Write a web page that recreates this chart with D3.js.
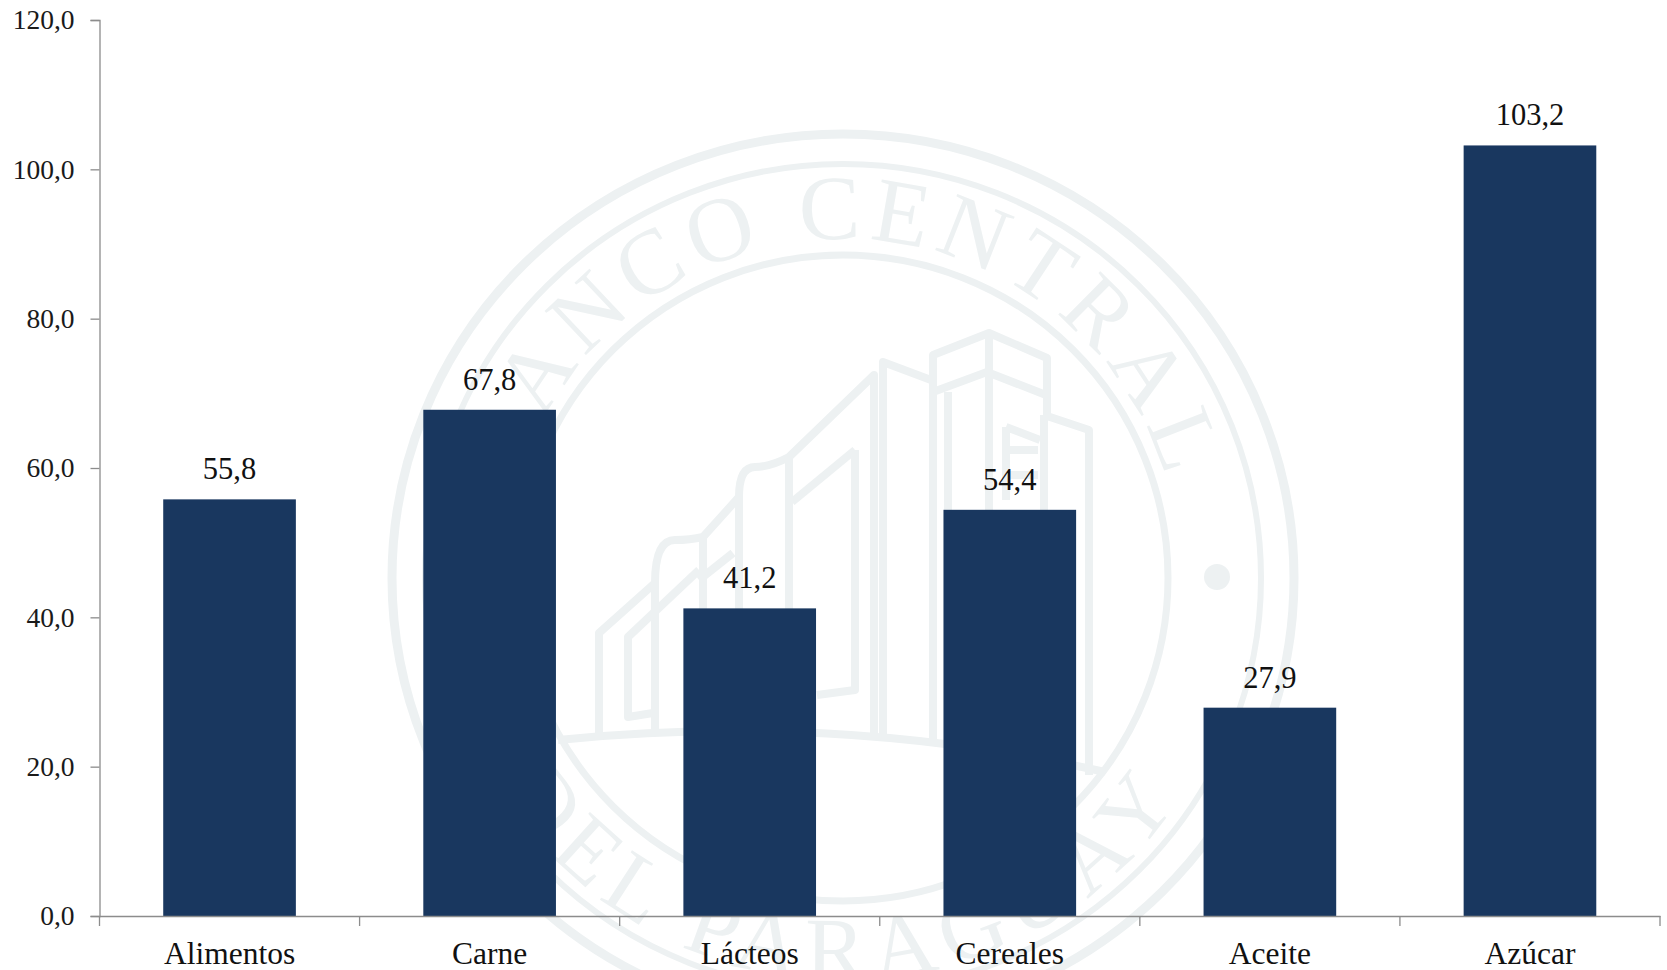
<!DOCTYPE html>
<html>
<head>
<meta charset="utf-8">
<style>
html,body{margin:0;padding:0;background:#fff;overflow:hidden}
svg{display:block}
text{font-family:"Liberation Serif",serif}
</style>
<script src="https://cdn.jsdelivr.net/npm/d3@7"></script>
</head>
<body>
<script>
const categories = ["Alimentos","Carne","Lácteos","Cereales","Aceite","Azúcar"];
const values = [55.8,67.8,41.2,54.4,27.9,103.2];
const yTicks = [0,20,40,60,80,100,120];
const sealTop = "BANCO CENTRAL";
const sealBottom = "DEL PARAGUAY";
const comma = d3.format(".1f");
const fmt = v => comma(v).replace(".",",");

const W = 1667, H = 970;
const mLeft = 99.5, mRight = 1660, mTop = 20, mBottom = 916;
const svg = d3.select("body").append("svg").attr("width",W).attr("height",H);
svg.append("rect").attr("width",W).attr("height",H).attr("fill","#fff");

// watermark seal
const wm = "#edf1f2";
const seal = svg.append("g").attr("fill","none").attr("stroke",wm);
const cx = 843, cy = 577;
[[451,444,9],[418,414,6],[325,323,7]].forEach(([rx,ry,w]) =>
  seal.append("ellipse").attr("cx",cx).attr("cy",cy+1).attr("rx",rx).attr("ry",ry).attr("stroke-width",w));
const defs = svg.append("defs");
const rad = d => d*Math.PI/180;
const arcPath = (r,a0,a1,sweep) => {
  const p = a => [cx+r*Math.sin(rad(a)), cy-r*Math.cos(rad(a))];
  const [x0,y0]=p(a0),[x1,y1]=p(a1);
  return `M${x0},${y0}A${r},${r} 0 0 ${sweep} ${x1},${y1}`;
};
defs.append("path").attr("id","arcTop").attr("d",arcPath(338,-88,88,1));
defs.append("path").attr("id","arcBot").attr("d",arcPath(403,235,125,0));
const addArc = (id,txt,size,sp) => svg.append("text")
  .attr("font-size",size).attr("fill",wm).attr("letter-spacing",sp)
  .append("textPath").attr("href","#"+id).attr("startOffset","50%").attr("text-anchor","middle").text(txt);
addArc("arcTop",sealTop,92,8);
addArc("arcBot",sealBottom,90,11);
[[cx+374,577],[cx-374,577]].forEach(([px,py]) =>
  svg.append("circle").attr("cx",px).attr("cy",py).attr("r",13).attr("fill",wm));

// buildings outline
const bld = svg.append("g").attr("fill","none").attr("stroke",wm).attr("stroke-width",8).attr("stroke-linejoin","round");
[
 "M558,740Q840,712 1105,772",
 "M933,745V355L989,333L1047,358V415",
 "M933,392L987,372L1046,395",
 "M989,333V745",
 "M948,392V745",
 "M883,740V362L931,380",
 "M874,735V375L789,457Q770,467 755,467Q739,467 739,497L703,537Q690,540 675,540Q655,540 655,583L599,633V735",
 "M855,450L792,502M789,457V735",
 "M855,450V690L817,695",
 "M739,497V735M703,537V735M655,583V735",
 "M733,553L699,580M699,570L628,637V717L653,713",
 "M1044,415L1089,430V775M1044,415V760",
 "M1006,427L1040,440M1008,450H1038M1008,475H1038M1006,427V500",
].forEach(d => bld.append("path").attr("d",d));

// scales
const x = d3.scaleBand().domain(categories).range([mLeft,mRight]).paddingInner(0.49).paddingOuter(0.245);
const y = d3.scaleLinear().domain([0,120]).range([mBottom,mTop]);

// bars
svg.append("g").selectAll("rect").data(categories).join("rect")
  .attr("x",d=>x(d)).attr("width",x.bandwidth())
  .attr("y",(d,i)=>y(values[i])).attr("height",(d,i)=>mBottom-y(values[i]))
  .attr("fill","#19375f");

// y axis
const axisColor = "#8c8c8c";
const gy = svg.append("g").attr("transform",`translate(${mLeft},0)`)
  .call(d3.axisLeft(y).tickValues(yTicks).tickFormat(fmt).tickSize(9).tickPadding(16));
gy.selectAll("path,line").attr("stroke",axisColor).attr("stroke-width",1.3);
gy.selectAll("text").attr("font-size",27.5).attr("font-family","Liberation Serif").attr("fill","#1a1a1a");

// x axis
const gx = svg.append("g").attr("transform",`translate(0,${mBottom})`)
  .call(d3.axisBottom(x).tickSize(0).tickPadding(0).tickSizeOuter(0));
gx.select("path").attr("stroke",axisColor).attr("stroke-width",1.3);
gx.selectAll("text").attr("font-size",31.5).attr("font-family","Liberation Serif").attr("fill","#111").attr("y",26).attr("dy",".71em");
const boundaries = d3.range(categories.length+1).map(i => mLeft + i*x.step());
gx.selectAll("line.b").data(boundaries).join("line").attr("class","b")
  .attr("x1",d=>d).attr("x2",d=>d).attr("y1",0).attr("y2",10)
  .attr("stroke",axisColor).attr("stroke-width",1.3);

// value labels
svg.append("g").selectAll("text").data(categories).join("text")
  .attr("x",d=>x(d)+x.bandwidth()/2).attr("y",(d,i)=>y(values[i])-20)
  .attr("text-anchor","middle").attr("font-size",30.5).attr("fill","#111")
  .text((d,i)=>fmt(values[i]));
</script>
</body>
</html>
